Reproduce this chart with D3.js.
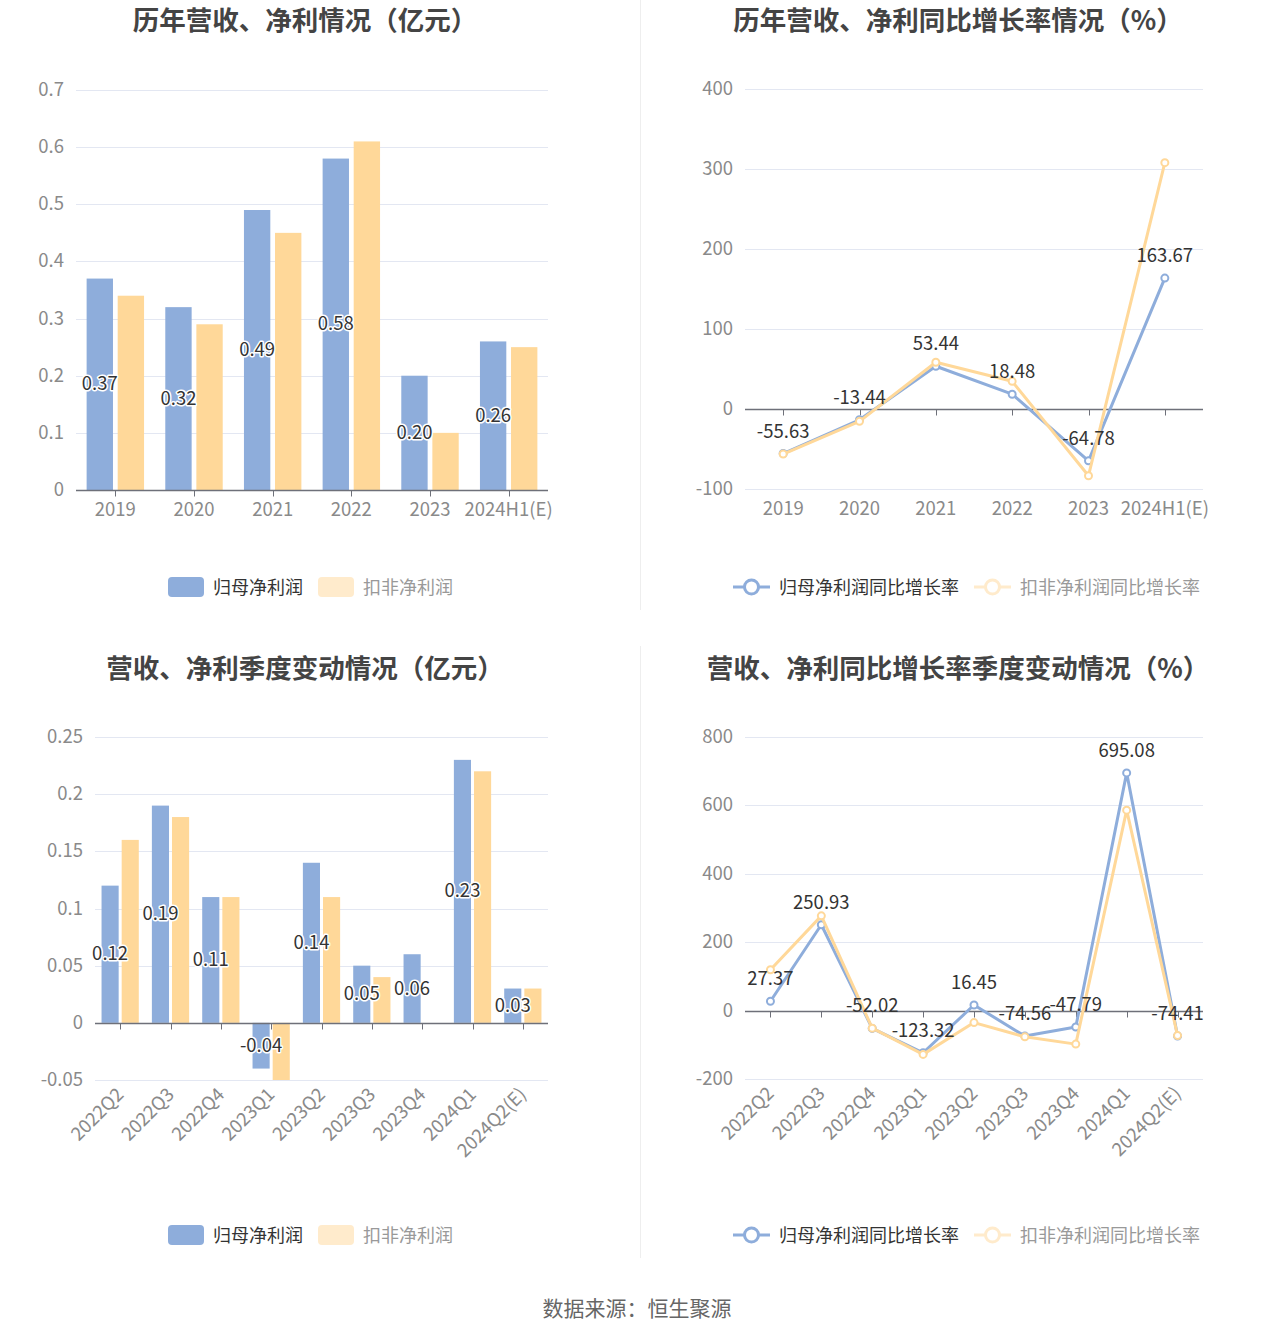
<!DOCTYPE html>
<html><head><meta charset="utf-8">
<script src="https://cdn.jsdelivr.net/npm/d3@7"></script>
<style>body{margin:0;background:#fff}svg{display:block}text{font-family:"Noto Sans CJK SC","Noto Sans",sans-serif}</style>
</head><body><svg id="c" width="1275" height="1336"></svg>
<script>
// ---------- data ----------
const yearCats = ["2019","2020","2021","2022","2023","2024H1(E)"];
const yearNetProfit = [0.37,0.32,0.49,0.58,0.20,0.26];
const yearDeductedProfit = [0.34,0.29,0.45,0.61,0.10,0.25];
const yearNetGrowth = [-55.63,-13.44,53.44,18.48,-64.78,163.67];
const yearDeductedGrowth = [-56.3,-15.4,58.4,34.6,-83.4,307.9];
const quarterCats = ["2022Q2","2022Q3","2022Q4","2023Q1","2023Q2","2023Q3","2023Q4","2024Q1","2024Q2(E)"];
const qNetProfit = [0.12,0.19,0.11,-0.04,0.14,0.05,0.06,0.23,0.03];
const qDeductedProfit = [0.16,0.18,0.11,-0.05,0.11,0.04,0,0.22,0.03];
const qNetGrowth = [27.37,250.93,-52.02,-123.32,16.45,-74.56,-47.79,695.08,-74.41];
const qDeductedGrowth = [119.5,277,-51.4,-128,-35,-76.7,-98,586,-73];
const ticksYearBar = [0,0.1,0.2,0.3,0.4,0.5,0.6,0.7];
const ticksYearLine = [-100,0,100,200,300,400];
const ticksQBar = [-0.05,0,0.05,0.1,0.15,0.2,0.25];
const ticksQLine = [-200,0,200,400,600,800];
const titles = ["历年营收、净利情况（亿元）","历年营收、净利同比增长率情况（%）","营收、净利季度变动情况（亿元）","营收、净利同比增长率季度变动情况（%）"];
const barLegend = ["归母净利润","扣非净利润"];
const lineLegend = ["归母净利润同比增长率","扣非净利润同比增长率"];
const sourceText = "数据来源：恒生聚源";

// ---------- style ----------
const BLUE = "#8EADDB", ORANGE = "#FFD899", ORANGE_L = "#FFEBCC";
const GRID = "#E3E7F2", AXIS = "#6E7079", LBL = "#8A8A8A", TXT = "#333";
const AX_FS = 18.5, VAL_FS = 18.5;
const svg = d3.select("#c");

// dividers
svg.append("line").attr("x1",640.5).attr("x2",640.5).attr("y1",0).attr("y2",610).attr("stroke","#eee");
svg.append("line").attr("x1",640.5).attr("x2",640.5).attr("y1",646).attr("y2",1258).attr("stroke","#eee");

function title(t, cx, cy){
  svg.append("text").attr("x",cx).attr("y",cy).attr("text-anchor","middle").attr("dominant-baseline","central")
    .attr("font-size",26.5).attr("font-weight","bold").attr("fill","#444").text(t);
}
function fmt(d){ return String(+d.toFixed(2)); }

function frame(o){
  const g = svg.append("g");
  const y = d3.scaleLinear().domain(o.domain).range([o.bottom,o.top]);
  const x = d3.scaleBand().domain(o.cats).range([o.left,o.right]).padding(0);
  g.selectAll(".gl").data(o.ticks.filter(t=>t!==0)).join("line")
    .attr("x1",o.left).attr("x2",o.right).attr("y1",d=>Math.round(y(d))+0.5).attr("y2",d=>Math.round(y(d))+0.5)
    .attr("stroke",GRID);
  g.selectAll(".yl").data(o.ticks).join("text")
    .attr("x",o.left-12).attr("y",d=>y(d)-2).attr("text-anchor","end").attr("dominant-baseline","central")
    .attr("font-size",AX_FS).attr("fill",LBL).text(fmt);
  return {g,x,y};
}
function axis(g,o,x,y){
  const y0 = Math.round(y(0))+0.5;
  g.append("line").attr("x1",o.left).attr("x2",o.right).attr("y1",y0).attr("y2",y0).attr("stroke",AXIS).attr("stroke-width",1.5);
  g.selectAll(".tk").data(o.cats).join("line")
    .attr("x1",d=>Math.round(x(d)+x.bandwidth()/2)+0.5).attr("x2",d=>Math.round(x(d)+x.bandwidth()/2)+0.5)
    .attr("y1",y0).attr("y2",y0+6).attr("stroke",AXIS);
  if(o.rotate){
    g.selectAll(".xl").data(o.cats).join("text")
      .attr("transform",d=>`translate(${x(d)+x.bandwidth()/2-1},${o.bottom+10}) rotate(-45)`)
      .attr("text-anchor","end").attr("dominant-baseline","central")
      .attr("font-size",AX_FS).attr("fill",LBL).text(d=>d);
  } else {
    g.selectAll(".xl").data(o.cats).join("text")
      .attr("x",d=>x(d)+x.bandwidth()/2).attr("y",o.bottom+18).attr("text-anchor","middle").attr("dominant-baseline","central")
      .attr("font-size",AX_FS).attr("fill",LBL).text(d=>d);
  }
}

function barChart(o){
  const {g,x,y} = frame(o);
  const bw = x.bandwidth(), w = bw*o.wr, gap = bw*o.gr;
  const s0 = (bw - 2*w - gap)/2;
  const mk = (vals,color,off)=> g.append("g").selectAll("rect").data(vals).join("rect")
      .attr("x",(d,i)=>x(o.cats[i])+off).attr("width",w)
      .attr("y",d=>Math.min(y(d),y(0))).attr("height",d=>Math.abs(y(d)-y(0)))
      .attr("fill",color);
  mk(o.a,BLUE,s0); mk(o.b,ORANGE,s0+w+gap);
  axis(g,o,x,y);
  g.append("g").selectAll("text").data(o.a).join("text")
    .attr("x",(d,i)=>x(o.cats[i])+s0+w/2).attr("y",d=>(y(d)+y(0))/2-2)
    .attr("text-anchor","middle").attr("dominant-baseline","central")
    .attr("font-size",VAL_FS).attr("fill",TXT).attr("stroke","#fff").attr("stroke-width",3)
    .attr("paint-order","stroke").attr("stroke-linejoin","round").text(d=>d.toFixed(2));
}

function lineChart(o){
  const {g,x,y} = frame(o);
  axis(g,o,x,y);
  const cx = i=>x(o.cats[i])+x.bandwidth()/2;
  const line = d3.line().x((d,i)=>cx(i)).y(d=>y(d));
  [[o.a,BLUE],[o.b,ORANGE]].forEach(([vals,color])=>{
    g.append("path").datum(vals).attr("d",line).attr("fill","none").attr("stroke",color).attr("stroke-width",3).attr("stroke-linejoin","round");
    g.append("g").selectAll("circle").data(vals).join("circle")
      .attr("cx",(d,i)=>cx(i)).attr("cy",d=>y(d)).attr("r",3.5)
      .attr("fill","#fff").attr("stroke",color).attr("stroke-width",2);
  });
  g.append("g").selectAll("text").data(o.a).join("text")
    .attr("x",(d,i)=>cx(i)).attr("y",d=>y(d)-24).attr("text-anchor","middle").attr("dominant-baseline","central")
    .attr("font-size",VAL_FS).attr("fill",TXT).text(d=>d.toFixed(2));
}

function barLegendAt(cy, x0){
  [[barLegend[0],BLUE,TXT,0],[barLegend[1],ORANGE_L,"#999",150]].forEach(([t,c,tc,dx])=>{
    svg.append("rect").attr("x",x0+dx).attr("y",cy-10).attr("width",36).attr("height",20).attr("rx",4).attr("fill",c);
    svg.append("text").attr("x",x0+dx+45).attr("y",cy-1).attr("dominant-baseline","central").attr("font-size",18).attr("fill",tc).text(t);
  });
}
function lineLegendAt(cy, x0){
  [[lineLegend[0],BLUE,TXT,0],[lineLegend[1],ORANGE_L,"#999",241]].forEach(([t,c,tc,dx])=>{
    svg.append("line").attr("x1",x0+dx).attr("x2",x0+dx+37).attr("y1",cy).attr("y2",cy).attr("stroke",c).attr("stroke-width",3);
    svg.append("circle").attr("cx",x0+dx+18.5).attr("cy",cy).attr("r",7).attr("fill","#fff").attr("stroke",c).attr("stroke-width",3);
    svg.append("text").attr("x",x0+dx+46).attr("y",cy-1).attr("dominant-baseline","central").attr("font-size",18).attr("fill",tc).text(t);
  });
}

title(titles[0],305,18); title(titles[1],958,18); title(titles[2],305,666); title(titles[3],958,666);

barChart({cats:yearCats,a:yearNetProfit,b:yearDeductedProfit,domain:[0,0.7],ticks:ticksYearBar,
  left:76,right:548,top:90,bottom:490,wr:0.335,gr:0.06});
lineChart({cats:yearCats,a:yearNetGrowth,b:yearDeductedGrowth,domain:[-100,400],ticks:ticksYearLine,
  left:745,right:1203,top:89,bottom:489});
barChart({cats:quarterCats,a:qNetProfit,b:qDeductedProfit,domain:[-0.05,0.25],ticks:ticksQBar,
  left:95,right:548,top:737,bottom:1080,wr:0.34,gr:0.06,rotate:true});
lineChart({cats:quarterCats,a:qNetGrowth,b:qDeductedGrowth,domain:[-200,800],ticks:ticksQLine,
  left:745,right:1203,top:737,bottom:1079,rotate:true});

barLegendAt(587,168); lineLegendAt(587,733);
barLegendAt(1235,168); lineLegendAt(1235,733);

svg.append("text").attr("x",637).attr("y",1307).attr("text-anchor","middle").attr("dominant-baseline","central")
  .attr("font-size",21).attr("fill","#666").text(sourceText);
</script></body></html>
